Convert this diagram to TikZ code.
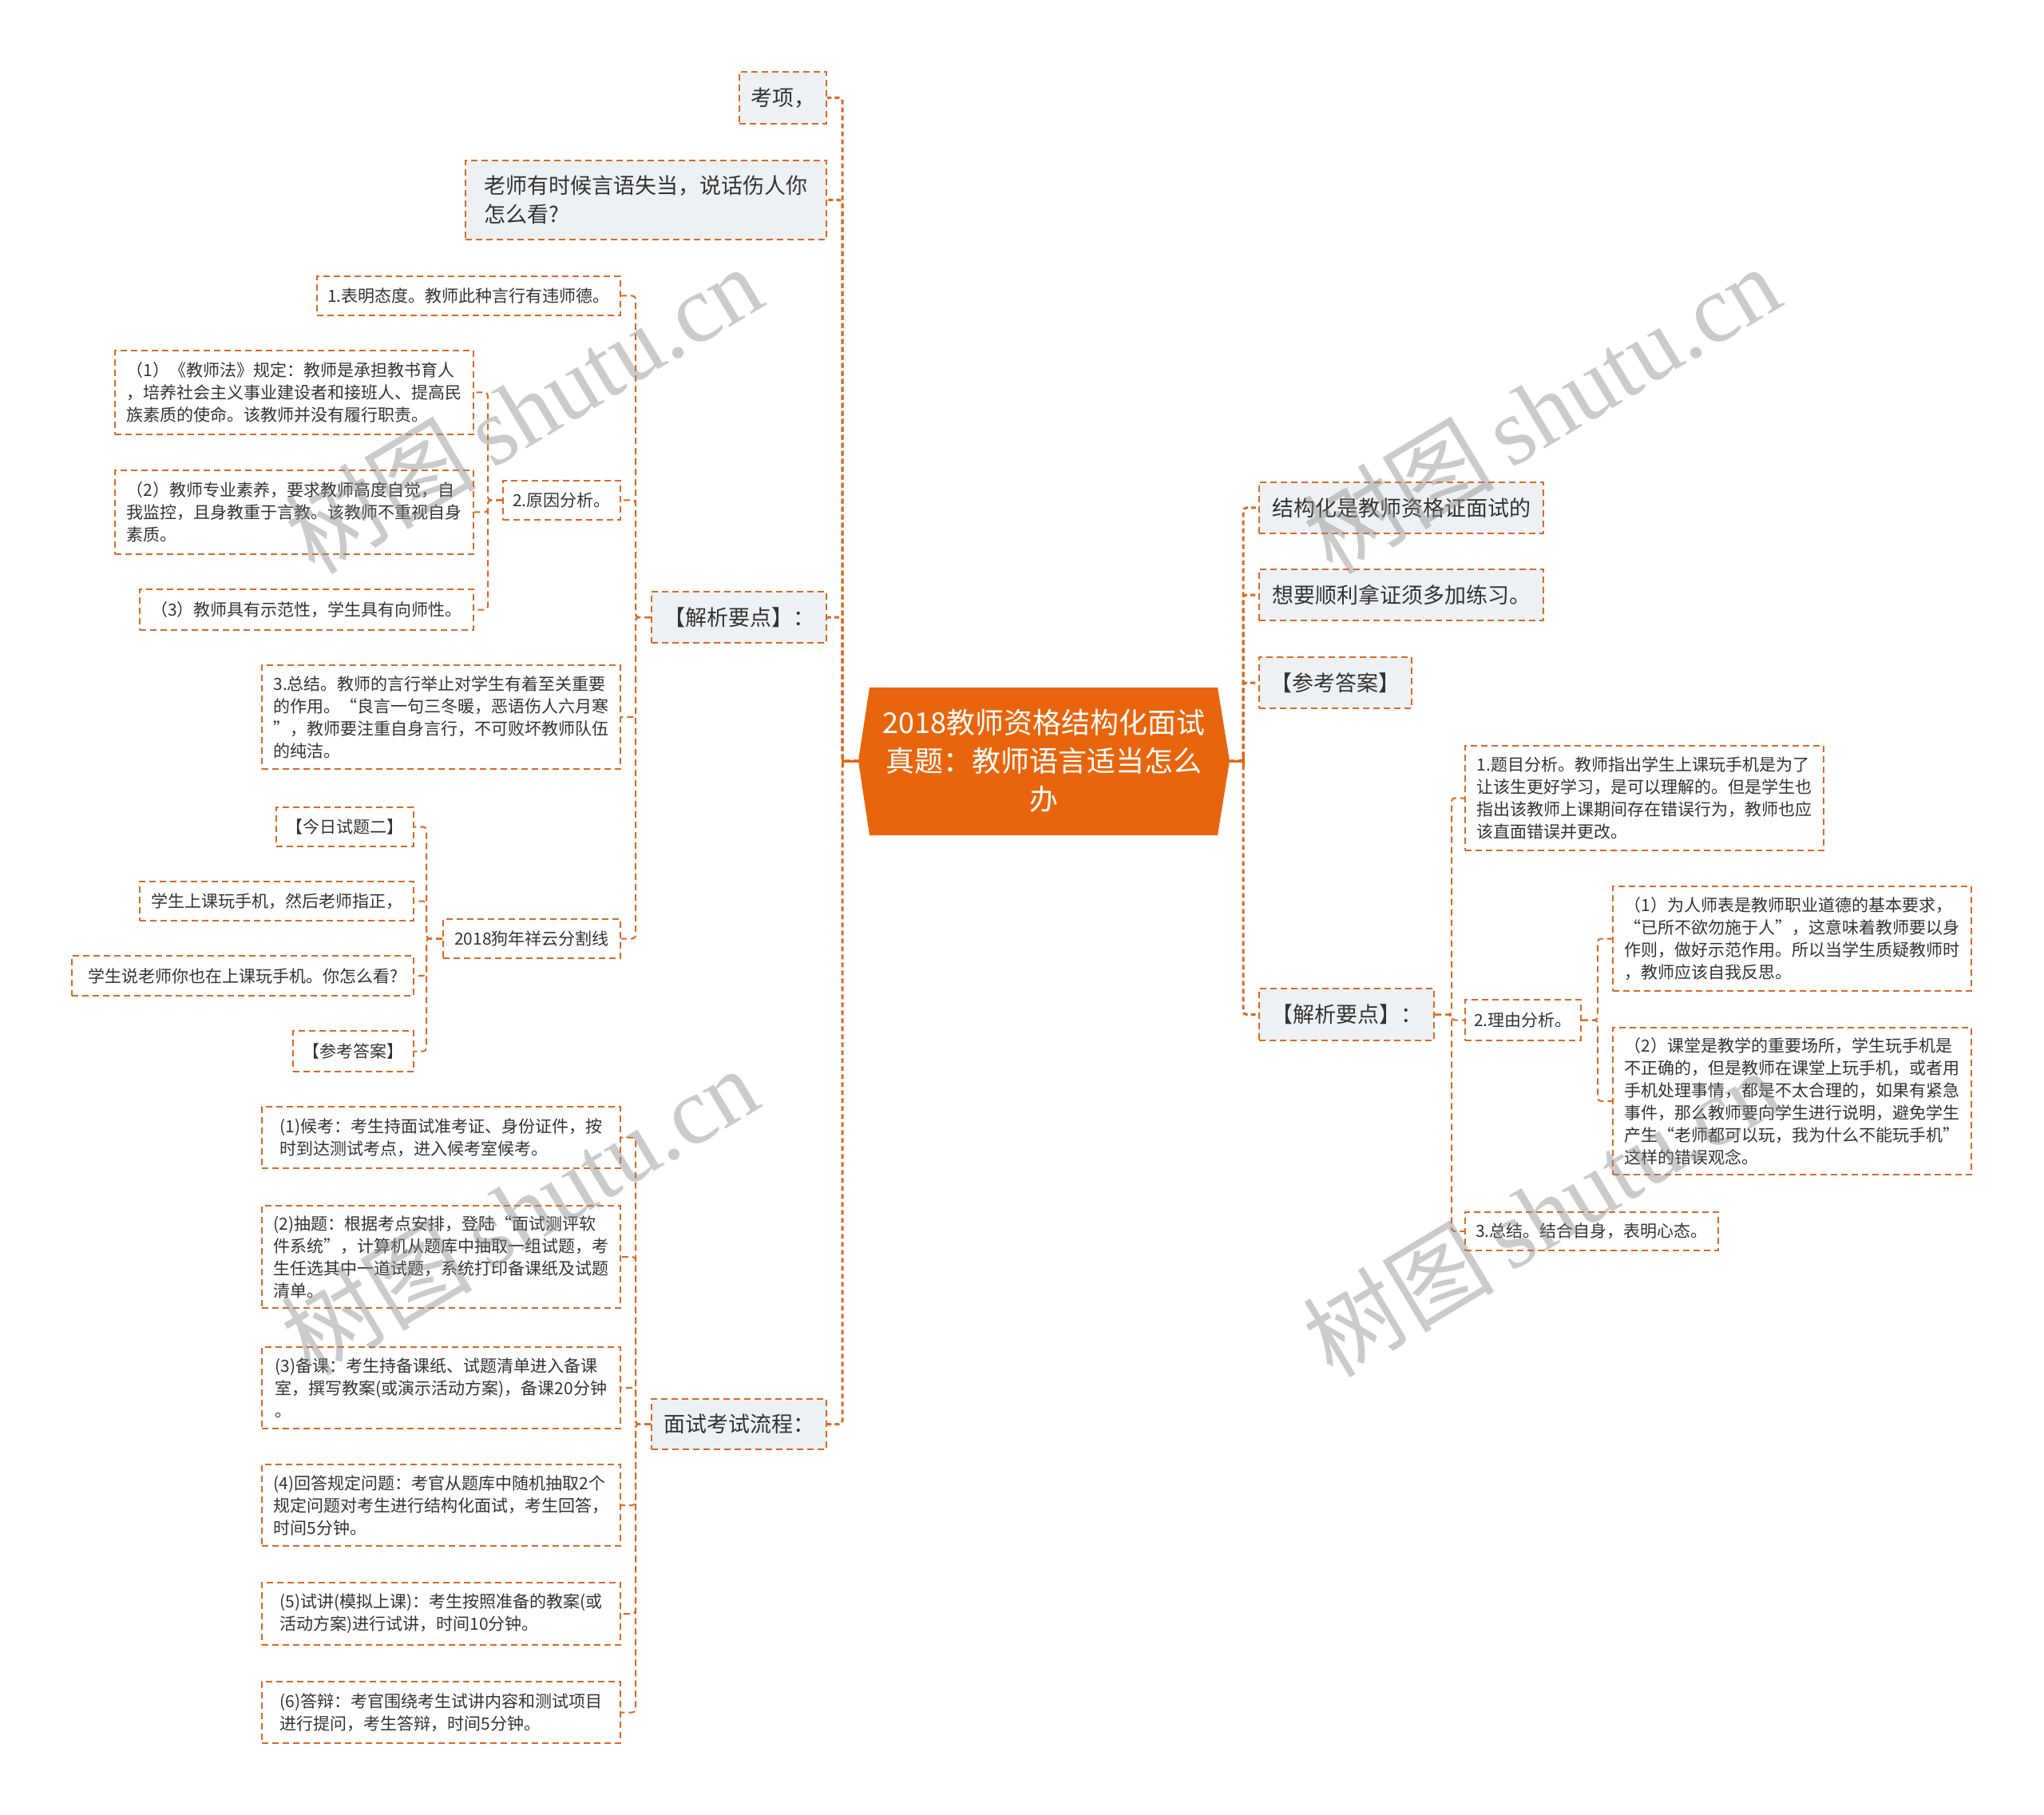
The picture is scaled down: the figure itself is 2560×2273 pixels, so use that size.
\documentclass[tikz,border=0pt]{standalone}
\usepackage{fontspec}
\setmainfont{Noto Sans CJK SC}
\newfontfamily\wmserif{Liberation Serif}
\usetikzlibrary{calc}
\definecolor{lnc}{HTML}{D96A24}
\definecolor{cfill}{HTML}{E9650D}
\definecolor{bfill}{HTML}{EEF1F4}
\definecolor{txt}{HTML}{333333}
\tikzset{
  wh/.style 2 args={minimum width={#1*0.5pt},minimum height={#2*0.5pt}},
  boxA/.style={draw=lnc, fill=bfill, line width=1pt, dash pattern=on 4pt off 2.5pt, text=txt,
    font=\fontsize{13.5pt}{18pt}\selectfont, align=left, inner xsep=2pt, inner ysep=2pt},
  boxB/.style={draw=lnc, line width=1pt, dash pattern=on 4pt off 2.5pt, text=txt,
    font=\fontsize{10.5pt}{14pt}\selectfont, align=left, inner xsep=2pt, inner ysep=2pt},
  trunkline/.style={draw=lnc, line width=1.5pt, dash pattern=on 3pt off 2pt, rounded corners=2pt},
  subline/.style={draw=lnc, line width=1pt, dash pattern=on 4pt off 2.5pt, rounded corners=2pt},
  wm/.style={text=black!45, opacity=0.45, font=\fontsize{60pt}{60pt}\selectfont, rotate=31}
}
\begin{document}
\begin{tikzpicture}[x=0.5pt,y=-0.5pt]
\useasboundingbox (0,0) rectangle (2560,2273);

% central topic
\fill[cfill] (1089,861) -- (1525,861) -- (1540,953) -- (1525,1046) -- (1089,1046) -- (1075,953) -- cycle;
\node[text=white, font=\fontsize{18pt}{24pt}\selectfont, align=center, wh={465}{186}, inner sep=0pt] (c) at (1307.5,953)
  {2018教师资格结构化面试\\真题：教师语言适当怎么\\办};
\coordinate (LT) at (1055,953);
\coordinate (RT) at (1557,953);

% left level 1
\node[boxA, wh={109}{65}] (k1) at (980.5,122.5) {考项，};
\node[boxA, wh={452}{99}] (k2) at (809,250.5) {老师有时候言语失当，说话伤人你\\怎么看?};
\node[boxA, wh={219}{64}] (k3) at (925.5,773) {【解析要点】：};
\node[boxA, wh={219}{63}] (k4) at (925.5,1783.5) {面试考试流程：};

% right level 1
\node[boxA, wh={356}{64}] (r1) at (1755,636) {结构化是教师资格证面试的};
\node[boxA, wh={356}{64}] (r2) at (1755,745) {想要顺利拿证须多加练习。};
\node[boxA, wh={191}{64}] (r3) at (1672.5,855) {【参考答案】};
\node[boxA, wh={219}{65}] (r4) at (1686.5,1270.5) {【解析要点】：};

% left: 解析要点 children
\node[boxB, wh={380}{49}] (a) at (587,370.5) {1.表明态度。教师此种言行有违师德。};
\node[boxB, wh={147}{49}] (b) at (703.5,626.5) {2.原因分析。};
\node[boxB, wh={449}{105}] (b1) at (368.5,491.5) {（1）《教师法》规定：教师是承担教书育人\\，培养社会主义事业建设者和接班人、提高民\\族素质的使命。该教师并没有履行职责。};
\node[boxB, wh={449}{105}] (b2) at (368.5,641.5) {（2）教师专业素养，要求教师高度自觉，自\\我监控，且身教重于言教。该教师不重视自身\\素质。};
\node[boxB, wh={418}{51}] (b3) at (384,763.5) {（3）教师具有示范性，学生具有向师性。};
\node[boxB, wh={449}{130}] (cc) at (552.5,898) {3.总结。教师的言行举止对学生有着至关重要\\的作用。“良言一句三冬暖，恶语伤人六月寒\\”，教师要注重自身言行，不可败坏教师队伍\\的纯洁。};
\node[boxB, wh={222}{49}] (d) at (666,1175.5) {2018狗年祥云分割线};
\node[boxB, wh={172}{49}] (d1) at (432,1035.5) {【今日试题二】};
\node[boxB, wh={343}{49}] (d2) at (346.5,1128.5) {学生上课玩手机，然后老师指正，};
\node[boxB, wh={428}{50}] (d3) at (304,1222) {学生说老师你也在上课玩手机。你怎么看?};
\node[boxB, wh={151}{51}] (d4) at (442.5,1316.5) {【参考答案】};

% left: 面试考试流程 children
\node[boxB, wh={449}{77}] (e1) at (552.5,1424.5) {(1)候考：考生持面试准考证、身份证件，按\\时到达测试考点，进入候考室候考。};
\node[boxB, wh={449}{128}] (e2) at (552.5,1574) {(2)抽题：根据考点安排，登陆“面试测评软\\件系统”，计算机从题库中抽取一组试题，考\\生任选其中一道试题，系统打印备课纸及试题\\清单。};
\node[boxB, wh={449}{102}] (e3) at (552.5,1738) {(3)备课：考生持备课纸、试题清单进入备课\\室，撰写教案(或演示活动方案)，备课20分钟\\。};
\node[boxB, wh={449}{102}] (e4) at (552.5,1885) {(4)回答规定问题：考官从题库中随机抽取2个\\规定问题对考生进行结构化面试，考生回答，\\时间5分钟。};
\node[boxB, wh={449}{78}] (e5) at (552.5,2021) {(5)试讲(模拟上课)：考生按照准备的教案(或\\活动方案)进行试讲，时间10分钟。};
\node[boxB, wh={449}{77}] (e6) at (552.5,2144.5) {(6)答辩：考官围绕考生试讲内容和测试项目\\进行提问，考生答辩，时间5分钟。};

% right: 解析要点 children
\node[boxB, wh={449}{131}] (p1) at (2059.5,999.5) {1.题目分析。教师指出学生上课玩手机是为了\\让该生更好学习，是可以理解的。但是学生也\\指出该教师上课期间存在错误行为，教师也应\\该直面错误并更改。};
\node[boxB, wh={145}{51}] (q2) at (1907.5,1277.5) {2.理由分析。};
\node[boxB, wh={449}{131}] (q21) at (2244.5,1175.5) {（1）为人师表是教师职业道德的基本要求，\\“已所不欲勿施于人”，这意味着教师要以身\\作则，做好示范作用。所以当学生质疑教师时\\，教师应该自我反思。};
\node[boxB, wh={449}{184}] (q22) at (2244.5,1379) {（2）课堂是教学的重要场所，学生玩手机是\\不正确的，但是教师在课堂上玩手机，或者用\\手机处理事情，都是不太合理的，如果有紧急\\事件，那么教师要向学生进行说明，避免学生\\产生“老师都可以玩，我为什么不能玩手机”\\这样的错误观念。};
\node[boxB, wh={317}{48}] (p3) at (1993.5,1542) {3.总结。结合自身，表明心态。};

% level-1 connectors
\foreach \k in {k1,k2,k3,k4} \draw[trunkline] (c.west) -- (LT) |- (\k.east);
\foreach \r in {r1,r2,r3,r4} \draw[trunkline] (c.east) -- (RT) |- (\r.west);
\draw[cfill, line width=1.5pt] (c.west) -- (LT);
\draw[cfill, line width=1.5pt] ($(LT)+(0,-8)$) -- ($(LT)+(0,8)$);
\draw[cfill, line width=1.5pt] (c.east) -- (RT);
\draw[cfill, line width=1.5pt] ($(RT)+(0,-8)$) -- ($(RT)+(0,8)$);

% deeper connectors
\foreach \n in {a,b,cc,d} \draw[subline] (k3.west) -- ++(-19,0) |- (\n.east);
\foreach \n in {b1,b2,b3} \draw[subline] (b.west) -- ++(-18,0) |- (\n.east);
\foreach \n in {d1,d2,d3,d4} \draw[subline] (d.west) -- ++(-20,0) |- (\n.east);
\foreach \n in {e1,e2,e3,e4,e5,e6} \draw[subline] (k4.west) -- ++(-19,0) |- (\n.east);
\foreach \n in {p1,q2,p3} \draw[subline] (r4.east) -- ++(21,0) |- (\n.west);
\foreach \n in {q21,q22} \draw[subline] (q2.east) -- ++(20,0) |- (\n.west);

% watermarks
\node[wm] (w1) at (655,512) {树图\,{\wmserif shutu.cn}};
\node[wm] (w2) at (1930,512) {树图\,{\wmserif shutu.cn}};
\node[wm] (w3) at (650,1516) {树图\,{\wmserif shutu.cn}};
\node[wm] (w4) at (1930,1518) {树图\,{\wmserif shutu.cn}};
\end{tikzpicture}
\end{document}
